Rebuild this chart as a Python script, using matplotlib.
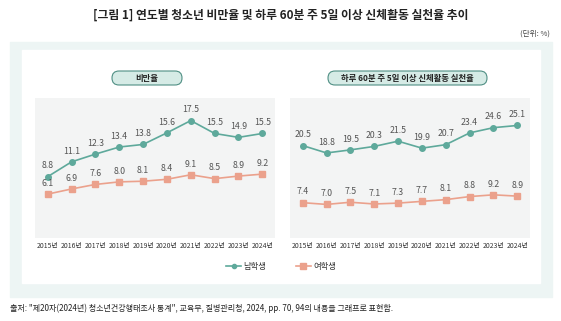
import matplotlib.pyplot as plt
from matplotlib.patches import FancyBboxPatch, Rectangle
from matplotlib.lines import Line2D

plt.rcParams['font.family'] = ['Noto Sans CJK KR', 'DejaVu Sans']

years = ['2015년', '2016년', '2017년', '2018년', '2019년',
         '2020년', '2021년', '2022년', '2023년', '2024년']

obesity_boys = [8.8, 11.1, 12.3, 13.4, 13.8, 15.6, 17.5, 15.5, 14.9, 15.5]
obesity_girls = [6.1, 6.9, 7.6, 8.0, 8.1, 8.4, 9.1, 8.5, 8.9, 9.2]

activity_boys = [20.5, 18.8, 19.5, 20.3, 21.5, 19.9, 20.7, 23.4, 24.6, 25.1]
activity_girls = [7.4, 7.0, 7.5, 7.1, 7.3, 7.7, 8.1, 8.8, 9.2, 8.9]

TEAL = '#5ea99b'
SALMON = '#eba18c'
TXT = '#555555'

W, H = 561, 321
fig = plt.figure(figsize=(W / 100, H / 100), dpi=100)

# background layer in pixel coords (top-left origin)
bg = fig.add_axes([0, 0, 1, 1], zorder=-1)
bg.set_xlim(0, W)
bg.set_ylim(H, 0)
bg.axis('off')
bg.add_patch(Rectangle((10, 42), 542, 255, color='#edf5f4'))
bg.add_patch(Rectangle((22, 50), 518, 233, color='white'))


def box(x0, y0, x1, y1):
    return [x0 / W, 1 - y1 / H, (x1 - x0) / W, (y1 - y0) / H]


fig.text(0.5, 1 - 15 / H, '[그림 1] 연도별 청소년 비만율 및 하루 60분 주 5일 이상 신체활동 실천율 추이',
         ha='center', va='center', fontsize=8.5, fontweight='bold', color='#222222')
fig.text(550 / W, 1 - 34 / H, '(단위: %)', ha='right', va='center',
         fontsize=5.5, color='#444444')
fig.text(10 / W, 1 - 308 / H,
         '출처: "제20차(2024년) 청소년건강행태조사 통계", 교육부, 질병관리청, 2024, pp. 70, 94의 내용을 그래프로 표현함.',
         ha='left', va='center', fontsize=5.8, color='#222222')


def panel(rect, boys, girls, ylim, title, pill):
    ax = fig.add_axes(rect)
    ax.set_facecolor('#f3f4f4')
    x = range(len(years))
    ax.plot(x, boys, color=TEAL, lw=1.2, marker='o', ms=4, zorder=3)
    ax.plot(x, girls, color=SALMON, lw=1.2, marker='s', ms=4.5, zorder=3)
    for i, v in enumerate(boys):
        ax.annotate(f'{v:.1f}', (i, v), xytext=(0, 4.5), textcoords='offset points',
                    ha='center', va='bottom', fontsize=6.3, color=TXT, fontweight='medium')
    for i, v in enumerate(girls):
        ax.annotate(f'{v:.1f}', (i, v), xytext=(0, 4.5), textcoords='offset points',
                    ha='center', va='bottom', fontsize=6.3, color=TXT, fontweight='medium')
    ax.set_xlim(-0.53, 9.53)
    ax.set_ylim(*ylim)
    ax.set_xticks(list(x))
    ax.set_xticklabels(years, fontsize=4.9, color='#333333')
    ax.tick_params(length=0, pad=3)
    ax.set_yticks([])
    for s in ax.spines.values():
        s.set_visible(False)

    px0, py0, px1, py1 = pill
    bg.add_patch(FancyBboxPatch((px0, py0), px1 - px0, py1 - py0,
                                boxstyle='round,pad=0,rounding_size=7',
                                facecolor='#d6ebe6', edgecolor='#4f8f84', lw=0.8))
    bg.text((px0 + px1) / 2, (py0 + py1) / 2, title, ha='center', va='center',
            fontsize=6, fontweight='bold', color='#222222')
    return ax


panel(box(35, 98, 275, 238), obesity_boys, obesity_girls, (-0.7, 21.0),
      '비만율', (112, 71, 182, 85))
panel(box(290, 98, 530, 238), activity_boys, activity_girls, (-0.7, 31.4),
      '하루 60분 주 5일 이상 신체활동 실천율', (328, 71, 487, 85))

h_boy = Line2D([], [], color=TEAL, lw=1.2, marker='o', ms=3)
h_girl = Line2D([], [], color=SALMON, lw=1.2, marker='s', ms=5)
fig.legend([h_boy], ['남학생'], loc='center right', bbox_to_anchor=(274 / W, 1 - 266 / H),
           frameon=False, fontsize=6, handlelength=1.8, handletextpad=0.3, labelcolor='#333333')
fig.legend([h_girl], ['여학생'], loc='center left', bbox_to_anchor=(288 / W, 1 - 266 / H),
           frameon=False, fontsize=6, handlelength=1.8, handletextpad=0.3, labelcolor='#333333')

fig.savefig('out.png', dpi=100)
